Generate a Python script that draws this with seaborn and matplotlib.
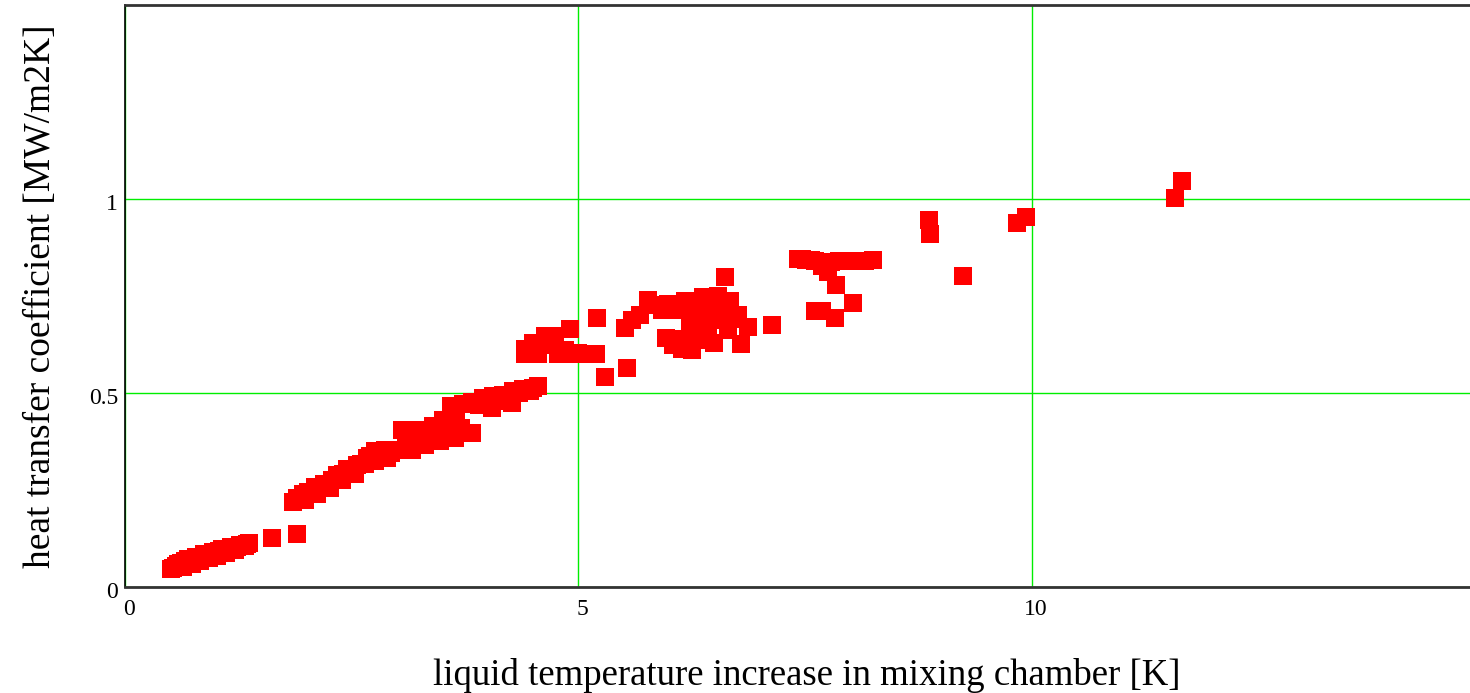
import pandas as pd
import matplotlib
matplotlib.use("Agg")
import matplotlib.pyplot as plt
import matplotlib.transforms as mtransforms
import seaborn as sns

#region Data

# low band near the origin
low_x = [0.51, 0.53, 0.56, 0.59, 0.62, 0.64, 0.66, 0.69, 0.71, 0.74, 0.76, 0.78,
         0.81, 0.83, 0.85, 0.87, 0.90, 0.93, 0.95, 0.97, 0.99, 1.01, 1.04, 1.07,
         1.09, 1.11, 1.14, 1.17, 1.19, 1.21, 1.24, 1.27, 1.30, 1.32, 1.35, 1.37,
         1.62, 1.90]
low_y = [0.046, 0.050, 0.054, 0.058, 0.062, 0.052, 0.066, 0.072, 0.066, 0.059, 0.071, 0.077,
         0.072, 0.067, 0.076, 0.085, 0.082, 0.075, 0.083, 0.090, 0.085, 0.080, 0.092, 0.098,
         0.093, 0.088, 0.096, 0.103, 0.100, 0.095, 0.103, 0.108, 0.109, 0.106, 0.110, 0.113,
         0.126, 0.137]

# rising band up to ~0.5
mid_x = [1.85, 1.90, 1.96, 1.98, 2.02, 2.09, 2.12, 2.15, 2.20, 2.26, 2.28, 2.34,
         2.39, 2.40, 2.45, 2.50, 2.54, 2.56, 2.60, 2.65, 2.67, 2.70, 2.76, 2.76,
         2.82, 2.87, 2.89, 2.93, 2.98, 3.03, 3.05, 3.10, 3.16, 3.16, 3.22, 3.27,
         3.31, 3.35, 3.40, 3.45, 3.47, 3.51, 3.55, 3.59, 3.64, 3.65, 3.70, 3.73,
         3.83, 3.83, 3.90, 3.95, 4.00, 4.05, 4.06, 4.12, 4.17, 4.22, 4.27, 4.28,
         4.35, 4.39, 4.47, 4.50, 4.55]
mid_y = [0.219, 0.228, 0.240, 0.224, 0.245, 0.258, 0.240, 0.255, 0.265, 0.255, 0.275, 0.289,
         0.276, 0.290, 0.304, 0.300, 0.291, 0.314, 0.318, 0.317, 0.332, 0.338, 0.351, 0.325,
         0.345, 0.353, 0.332, 0.345, 0.353, 0.353, 0.405, 0.380, 0.405, 0.353, 0.385, 0.405,
         0.366, 0.395, 0.415, 0.405, 0.376, 0.430, 0.420, 0.466, 0.384, 0.430, 0.410, 0.472,
         0.477, 0.397, 0.470, 0.487, 0.475, 0.461, 0.492, 0.480, 0.495, 0.490, 0.474, 0.505,
         0.500, 0.510, 0.505, 0.512, 0.518]

# cluster around 0.6
c1_x = [4.41, 4.41, 4.50, 4.55, 4.58, 4.63, 4.69, 4.74, 4.77, 4.85, 4.91, 4.93,
        5.00, 5.07, 5.13, 5.19, 5.20, 5.29, 5.53]
c1_y = [0.600, 0.613, 0.629, 0.600, 0.626, 0.647, 0.624, 0.647, 0.600, 0.611, 0.665, 0.600,
        0.602, 0.600, 0.601, 0.600, 0.693, 0.541, 0.564]

# cluster around 0.7
c2_x = [5.51, 5.59, 5.68, 5.77, 5.84, 5.92, 5.99, 6.10, 6.17, 6.28, 6.37, 6.47,
        6.54, 6.62, 6.67, 6.76, 6.87, 6.79, 6.50, 5.96, 6.04, 6.14, 6.25, 6.34,
        6.43, 6.56, 6.23, 6.39, 6.65, 6.50, 6.23, 6.30, 6.45, 6.60, 6.35, 6.14,
        6.05, 6.72, 7.13]
c2_y = [0.668, 0.688, 0.701, 0.740, 0.727, 0.714, 0.729, 0.714, 0.737, 0.724, 0.747, 0.740,
        0.750, 0.799, 0.737, 0.701, 0.670, 0.626, 0.629, 0.642, 0.624, 0.613, 0.611, 0.637,
        0.662, 0.688, 0.662, 0.701, 0.662, 0.714, 0.683, 0.700, 0.690, 0.710, 0.660, 0.640,
        0.632, 0.690, 0.675]

# cluster around 0.84
c3_x = [7.42, 7.47, 7.51, 7.56, 7.61, 7.68, 7.75, 7.84, 7.79, 7.87, 7.94, 8.01,
        8.08, 8.16, 8.25, 8.03, 7.61, 7.68, 7.83]
c3_y = [0.845, 0.846, 0.843, 0.842, 0.840, 0.827, 0.812, 0.778, 0.838, 0.839, 0.840, 0.840,
        0.840, 0.841, 0.843, 0.732, 0.711, 0.711, 0.693]

# isolated high points
hi_x = [8.86, 8.88, 9.24, 9.83, 9.93, 11.58, 11.66]
hi_y = [0.946, 0.910, 0.802, 0.938, 0.954, 1.003, 1.046]

x_ticks = [0, 5, 10]
y_ticks = [0, 0.5, 1]
y_tick_labels = ["0", "0.5", "1"]

df = pd.DataFrame({
    "dT": low_x + mid_x + c1_x + c2_x + c3_x + hi_x,
    "htc": low_y + mid_y + c1_y + c2_y + c3_y + hi_y,
})

#endregion Data

#region Plot

sns.set_style("white")
plt.rcParams["font.family"] = ["Liberation Serif", "DejaVu Serif"]
plt.rcParams["text.color"] = "black"
plt.rcParams["axes.labelcolor"] = "black"
plt.rcParams["xtick.color"] = "black"
plt.rcParams["ytick.color"] = "black"

fig = plt.figure(figsize=(14.7, 6.93), dpi=100)
ax = fig.add_axes([0.085, 0.153, 0.915, 0.840])

sns.scatterplot(ax=ax, data=df, x="dT", y="htc", marker="s", s=150,
                color="#ff0000", linewidth=0, zorder=3)

ax.set_xlim(0, 14.83)
ax.set_ylim(0, 1.5)
ax.set_xticks(x_ticks)
ax.set_yticks(y_ticks)
ax.set_yticklabels(y_tick_labels)
ax.tick_params(axis="both", length=0, labelsize=17)
ax.tick_params(axis="x", pad=9)
ax.tick_params(axis="y", pad=5)

# tick labels sit a few pixels right of / below their grid lines
shift_x = mtransforms.ScaledTranslation(4 / 100, 0, fig.dpi_scale_trans)
for lbl in ax.get_xticklabels():
    lbl.set_transform(lbl.get_transform() + shift_x)
shift_y = mtransforms.ScaledTranslation(0, -3 / 100, fig.dpi_scale_trans)
for lbl in ax.get_yticklabels():
    lbl.set_transform(lbl.get_transform() + shift_y)

ax.grid(True, color="#00ee00", linewidth=1)
ax.set_axisbelow(True)

ax.spines["right"].set_visible(False)
ax.spines["left"].set_color("black")
ax.spines["left"].set_linewidth(1.2)
for side in ["top", "bottom"]:
    ax.spines[side].set_color("#333333")
    ax.spines[side].set_linewidth(2)

ax.set_xlabel("liquid temperature increase in mixing chamber [K]", fontsize=26.5, labelpad=27)
ax.xaxis.label.set_x(0.507)
ax.set_ylabel("heat transfer coefficient [MW/m2K]", fontsize=27, labelpad=22)

fig.savefig("out.png", dpi=100)

#endregion Plot
